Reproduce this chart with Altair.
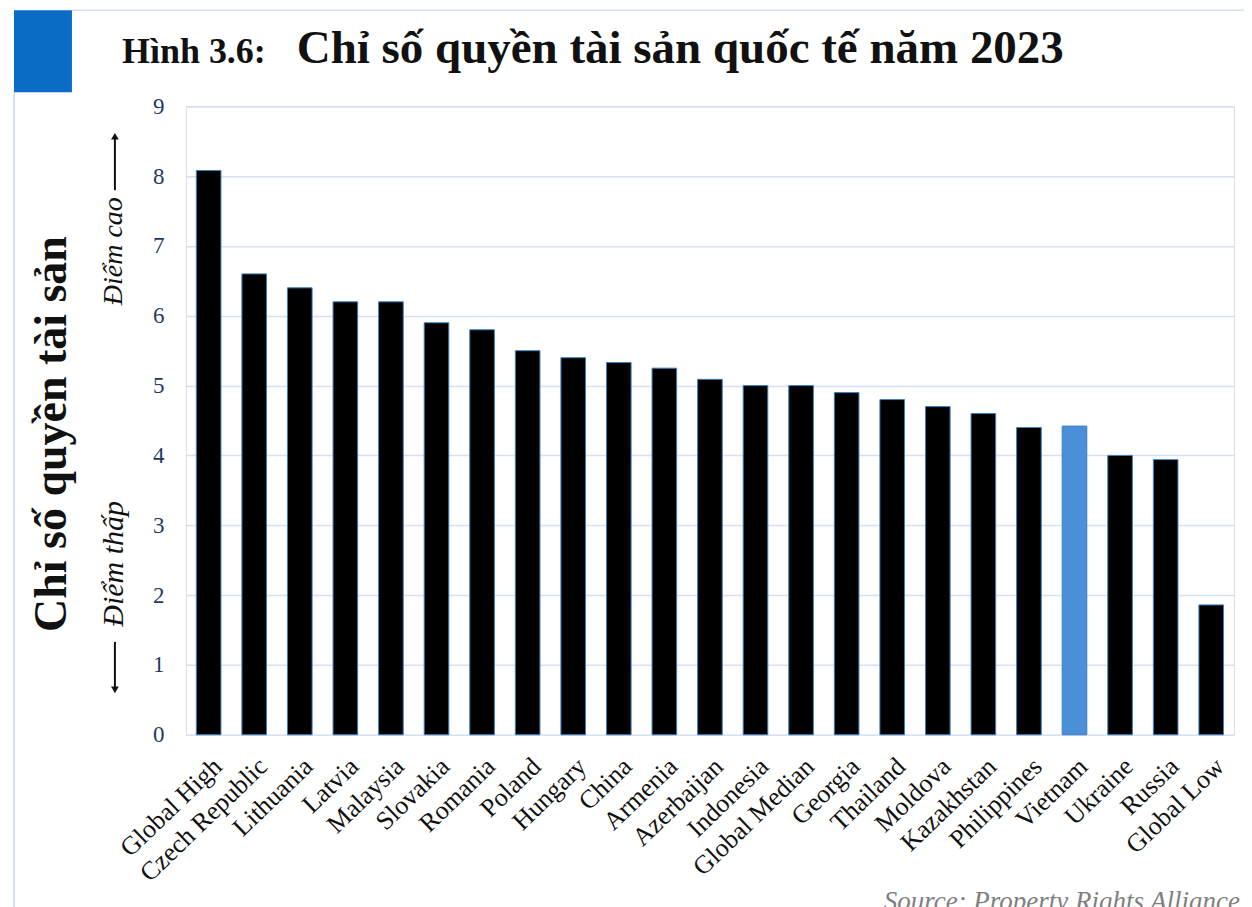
import altair as alt
import pandas as pd

countries = ["Global High", "Czech Republic", "Lithuania", "Latvia", "Malaysia", "Slovakia",
             "Romania", "Poland", "Hungary", "China", "Armenia", "Azerbaijan", "Indonesia",
             "Global Median", "Georgia", "Thailand", "Moldova", "Kazakhstan", "Philippines",
             "Vietnam", "Ukraine", "Russia", "Global Low"]
scores = [8.08, 6.6, 6.4, 6.2, 6.2, 5.9, 5.8, 5.5, 5.4, 5.33, 5.25, 5.09, 5.0, 5.0, 4.9,
          4.8, 4.7, 4.6, 4.4, 4.42, 4.0, 3.94, 1.86]
highlight = "Vietnam"
y_ticks = [0, 1, 2, 3, 4, 5, 6, 7, 8, 9]

df = pd.DataFrame({"country": countries, "score": scores})
one = pd.DataFrame({"k": [0]})

W, H = 1049, 629
SERIF = "Liberation Serif"

bars = alt.Chart(df).mark_bar(stroke="#3A7FC0", strokeWidth=1).encode(
    x=alt.X("country:N", sort=None, title=None,
            scale=alt.Scale(paddingInner=0.46, paddingOuter=0.23),
            axis=alt.Axis(labelAngle=-44, labelFont=SERIF, labelFontSize=26,
                          labelColor="#111111", ticks=False, domain=False,
                          labelPadding=18, grid=False, labelAlign="right",
                          labelBaseline="top")),
    y=alt.Y("score:Q", title=None,
            scale=alt.Scale(domain=[0, 9], nice=False),
            axis=alt.Axis(values=y_ticks, labelFont=SERIF, labelFontSize=23,
                          labelColor="#1F3A5F", ticks=False, domain=False,
                          labelPadding=22, gridColor="#D5E0F3", gridWidth=1.5)),
    color=alt.condition(alt.datum.country == highlight, alt.value("#4A8FD8"), alt.value("#000000")),
)

# Decorations (slide frame, blue square)
frame_v = alt.Chart(one).mark_rule(color="#D5E0F3", strokeWidth=2).encode(
    x=alt.value(-172), y=alt.value(-14), y2=alt.value(H + 200))
frame_h = alt.Chart(one).mark_rule(color="#D5E0F3", strokeWidth=1.5).encode(
    x=alt.value(-114), x2=alt.value(W + 20), y=alt.value(-96))
square = alt.Chart(one).mark_rect(color="#0A6CC4").encode(
    x=alt.value(-172), x2=alt.value(-114), y=alt.value(-96), y2=alt.value(-14))

title1 = alt.Chart(one).mark_text(text="Hình 3.6:", font=SERIF, fontWeight="bold", fontSize=36,
                                  align="left", baseline="alphabetic", color="#111111").encode(
    x=alt.value(-64), y=alt.value(-43))
title2 = alt.Chart(one).mark_text(text="Chỉ số quyền tài sản quốc tế năm 2023", font=SERIF,
                                  fontWeight="bold", fontSize=47, align="left",
                                  baseline="alphabetic", color="#111111").encode(
    x=alt.value(111), y=alt.value(-43))

ytitle = alt.Chart(one).mark_text(text="Chỉ số quyền tài sản", font=SERIF, fontWeight="bold",
                                  fontSize=46, angle=270, align="center", baseline="middle",
                                  color="#111111").encode(
    x=alt.value(-134), y=alt.value(328))
high_txt = alt.Chart(one).mark_text(text="Điểm cao", font=SERIF, fontStyle="italic", fontSize=28,
                                    angle=270, align="center", baseline="middle",
                                    color="#111111").encode(
    x=alt.value(-72), y=alt.value(145))
low_txt = alt.Chart(one).mark_text(text="Điểm thấp", font=SERIF, fontStyle="italic", fontSize=30,
                                   angle=270, align="center", baseline="middle",
                                   color="#111111").encode(
    x=alt.value(-72), y=alt.value(458))
up_line = alt.Chart(one).mark_rule(color="#111111", strokeWidth=2).encode(
    x=alt.value(-71), y=alt.value(84), y2=alt.value(32))
up_head = alt.Chart(one).mark_point(shape="triangle-up", filled=True, size=60, opacity=1,
                                    color="#111111").encode(x=alt.value(-71), y=alt.value(30))
down_line = alt.Chart(one).mark_rule(color="#111111", strokeWidth=2).encode(
    x=alt.value(-71), y=alt.value(536), y2=alt.value(582))
down_head = alt.Chart(one).mark_point(shape="triangle-down", filled=True, size=60, opacity=1,
                                      color="#111111").encode(x=alt.value(-71), y=alt.value(584))

source = alt.Chart(one).mark_text(text="Source: Property Rights Alliance", font=SERIF,
                                  fontStyle="italic", fontSize=27, align="right",
                                  baseline="alphabetic", color="#7F7F7F").encode(
    x=alt.value(W + 6), y=alt.value(804))

chart = alt.layer(frame_v, frame_h, square, bars, title1, title2, ytitle, high_txt, low_txt,
                  up_line, up_head, down_line, down_head, source).properties(
    width=W, height=H,
    autosize=alt.AutoSizeParams(type="none"),
    padding={"left": 178, "top": 98, "right": 10, "bottom": 180},
).configure_view(stroke=None).configure(background="white")

chart.save("out.html", embed_options={"renderer": "svg", "actions": False})
